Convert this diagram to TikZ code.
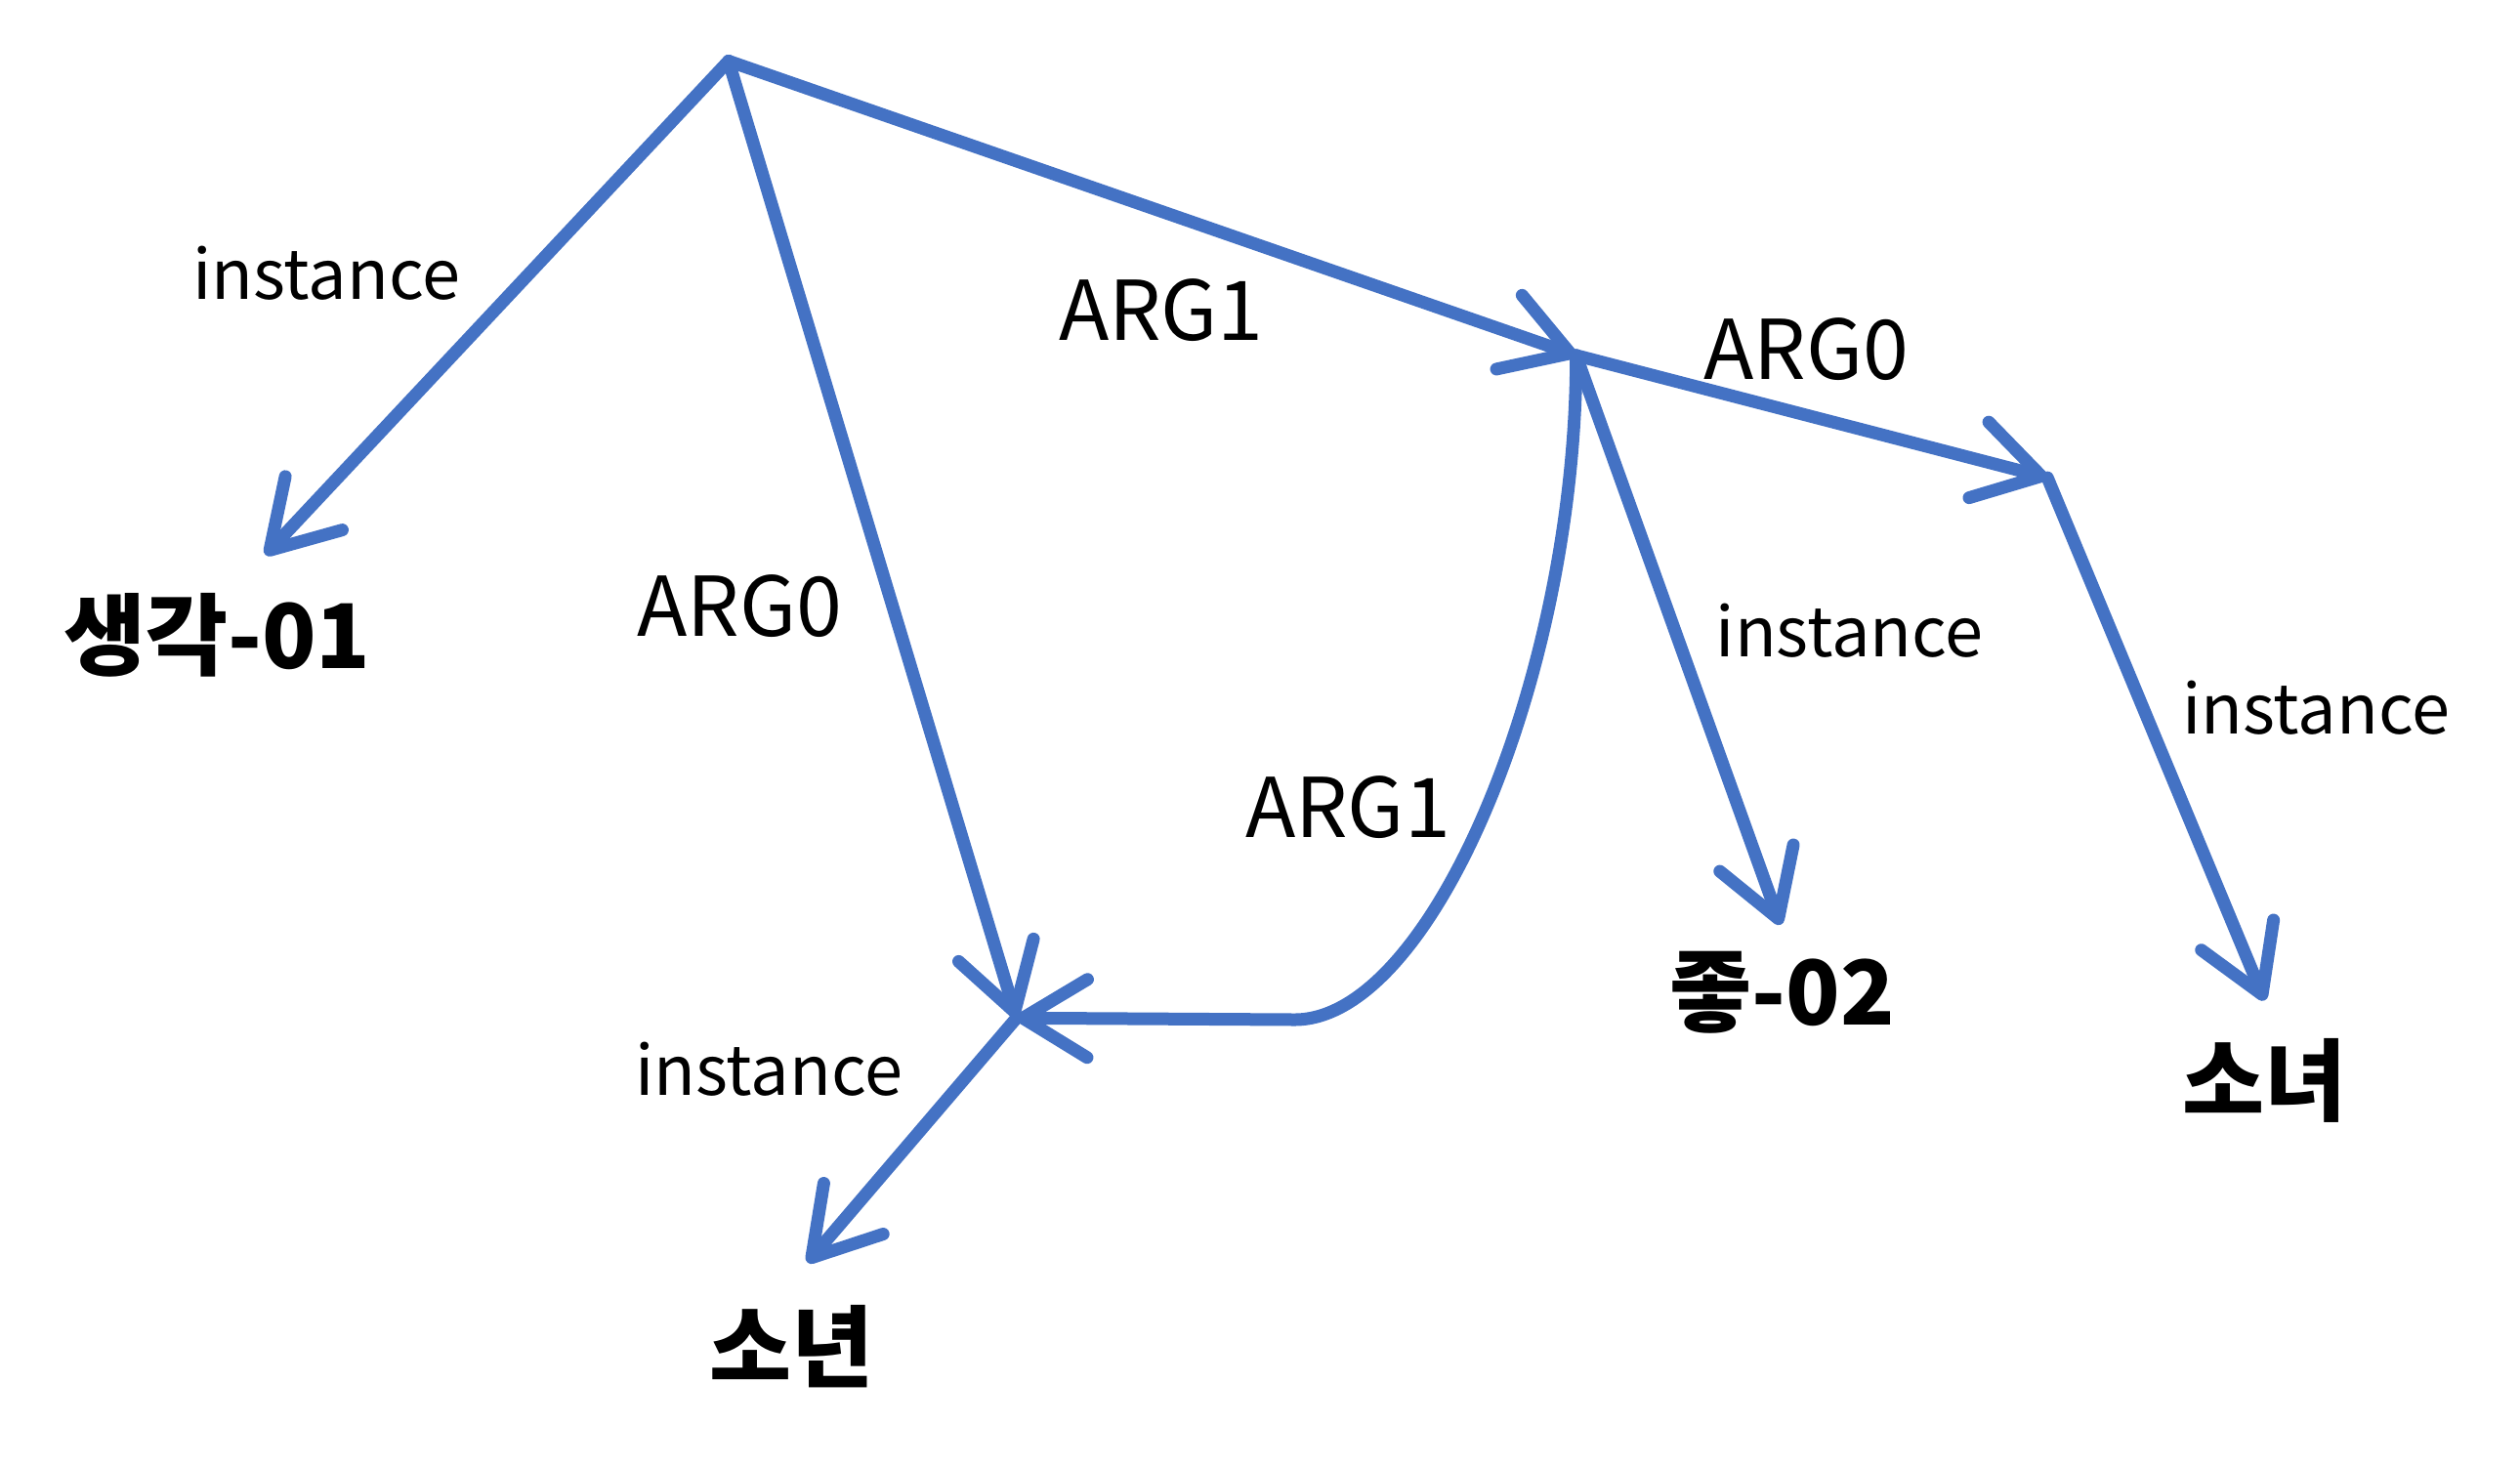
\documentclass[tikz,border=0pt]{standalone}
\usepackage{fontspec}
\setmainfont{Noto Sans CJK KR}
\usetikzlibrary{arrows.meta,positioning}
\definecolor{amrblue}{HTML}{4472C4}

\begin{document}
\begin{tikzpicture}[>={Straight Barb[length=0.66cm,width=0.8cm,round]},
      relation/.style={draw=amrblue,line width=0.13cm,line cap=round,->},
      concept/.style={font=\fontsize{26}{30}\selectfont\bfseries,inner sep=0pt},
      role/.style={font=\fontsize{24}{28}\selectfont,inner sep=0pt},
      inst/.style={font=\fontsize{20}{24}\selectfont,inner sep=0pt}]
      \useasboundingbox (0,0) rectangle (25.8,-15);
      \coordinate (root) at (7.459,-0.625);
      \coordinate (like) at (16.137,-3.639);
      \coordinate (girl) at (20.962,-4.891);
      \coordinate (boy) at (10.407,-10.423);
      \coordinate (bend) at (13.256,-10.44);
      \coordinate (thinktip) at (2.717,-5.681);
      \coordinate (liketip) at (18.229,-9.468);
      \coordinate (girltip) at (23.185,-10.243);
      \coordinate (boytip) at (8.267,-12.926);
      % concepts
      \node (think01) at (2.223,-6.504) [concept] {생각-01};
      \node (like02)  at (18.245,-10.16) [concept] {좋-02};
      \node (sonyeo)  at (23.185,-11.066) [concept] {소녀};
      \node (sonyeon) at (8.102,-13.783) [concept] {소년};
      % edges
      \draw[relation] (root) -- (thinktip);
      \node at (3.342,-2.799) [inst] {instance};
      \draw[relation] (root) -- (boy);
      \node at (7.575,-6.208) [role] {ARG0};
      \draw[relation] (root) -- (like);
      \node at (11.889,-3.178) [role] {ARG1};
      \draw[relation] (like) -- (girl);
      \node at (18.492,-3.574) [role] {ARG0};
      \draw[relation] (like) -- (liketip);
      \node at (18.937,-6.455) [inst] {instance};
      \draw[relation] (like) .. controls (16.137,-6.916) and (14.655,-10.44) .. (bend) -- (boy);
      \node at (13.8,-8.267) [role] {ARG1};
      \draw[relation] (girl) -- (girltip);
      \node at (23.712,-7.245) [inst] {instance};
      \draw[relation] (boy) -- (boytip);
      \node at (7.871,-10.95) [inst] {instance};
  \end{tikzpicture}
\end{document}
